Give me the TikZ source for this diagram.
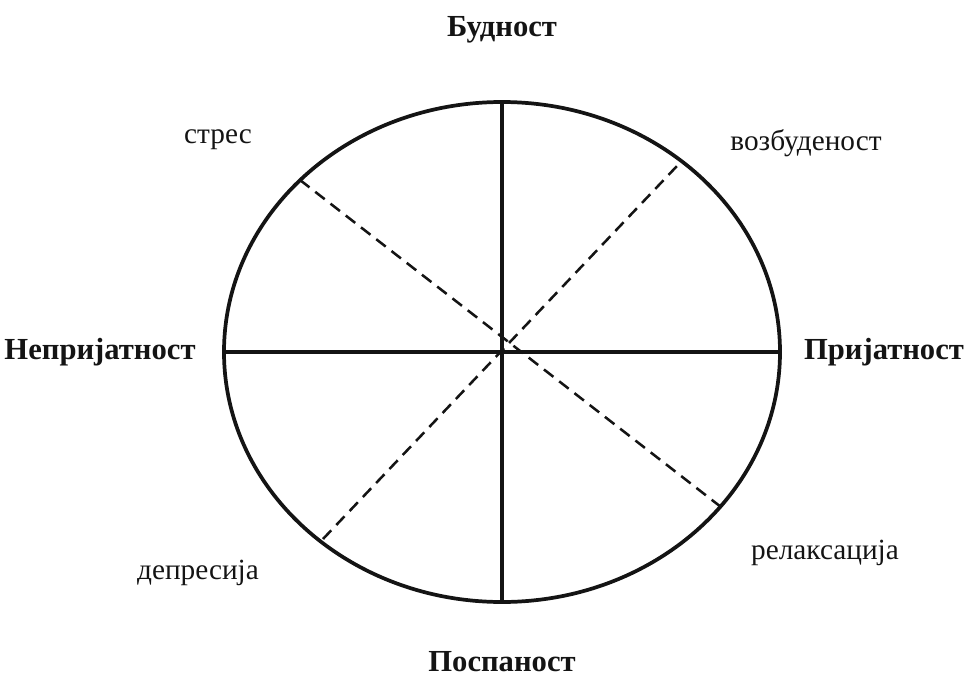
\documentclass[tikz,border=0pt]{standalone}
\usepackage{fontspec}
\setmainfont{Liberation Serif}
\usepackage{tikz}
\usetikzlibrary{positioning,calc}
\definecolor{inkblack}{RGB}{20,20,20}

\begin{document}
\begin{tikzpicture}[x=0.0264cm,y=-0.0264cm,
    axis/.style={draw=inkblack,line width=2.5pt},
    diag/.style={draw=inkblack,line width=1.9pt,dash pattern=on 9pt off 5.5pt},
    pole/.style={font=\fontsize{23}{26}\selectfont\bfseries,text=inkblack},
    mood/.style={font=\fontsize{22}{26}\selectfont,text=inkblack}]
    \useasboundingbox (0,0) rectangle (965,680);
    % the circle of affect
    \coordinate (c) at (502,352);
    \draw[axis,line width=2.8pt] (c) ellipse [x radius=278, y radius=250];
    \coordinate (top) at (502,102);
    \coordinate (bot) at (502,602);
    \coordinate (lft) at (224,352);
    \coordinate (rgt) at (780,352);
    \draw[axis] (top) -- (bot);
    \draw[axis] (lft) -- (rgt);
    % dashed diagonals
    \coordinate (ul) at (300,180);
    \coordinate (ur) at (677,166);
    \coordinate (ll) at (323,539);
    \coordinate (lr) at (721,507);
    \draw[diag] (ul) -- (lr);
    \draw[diag] (ll) -- (ur);
    % axis poles
    \node[pole] (arousal) at (502,30) {Будност};
    \node[pole] (sleep) at (502,662) {Поспаност};
    \node[pole] (unpleasant) at (100,352) {Непријатност};
    \node[pole] (pleasant) at (884,352) {Пријатност};
    % moods in the quadrants
    \node[mood] (stress) at (218,140) {стрес};
    \node[mood] (excited) at (806,143) {возбуденост};
    \node[mood] (depressed) at (198,573) {депресија};
    \node[mood] (relaxed) at (825,553) {релаксација};
  \end{tikzpicture}
\end{document}
